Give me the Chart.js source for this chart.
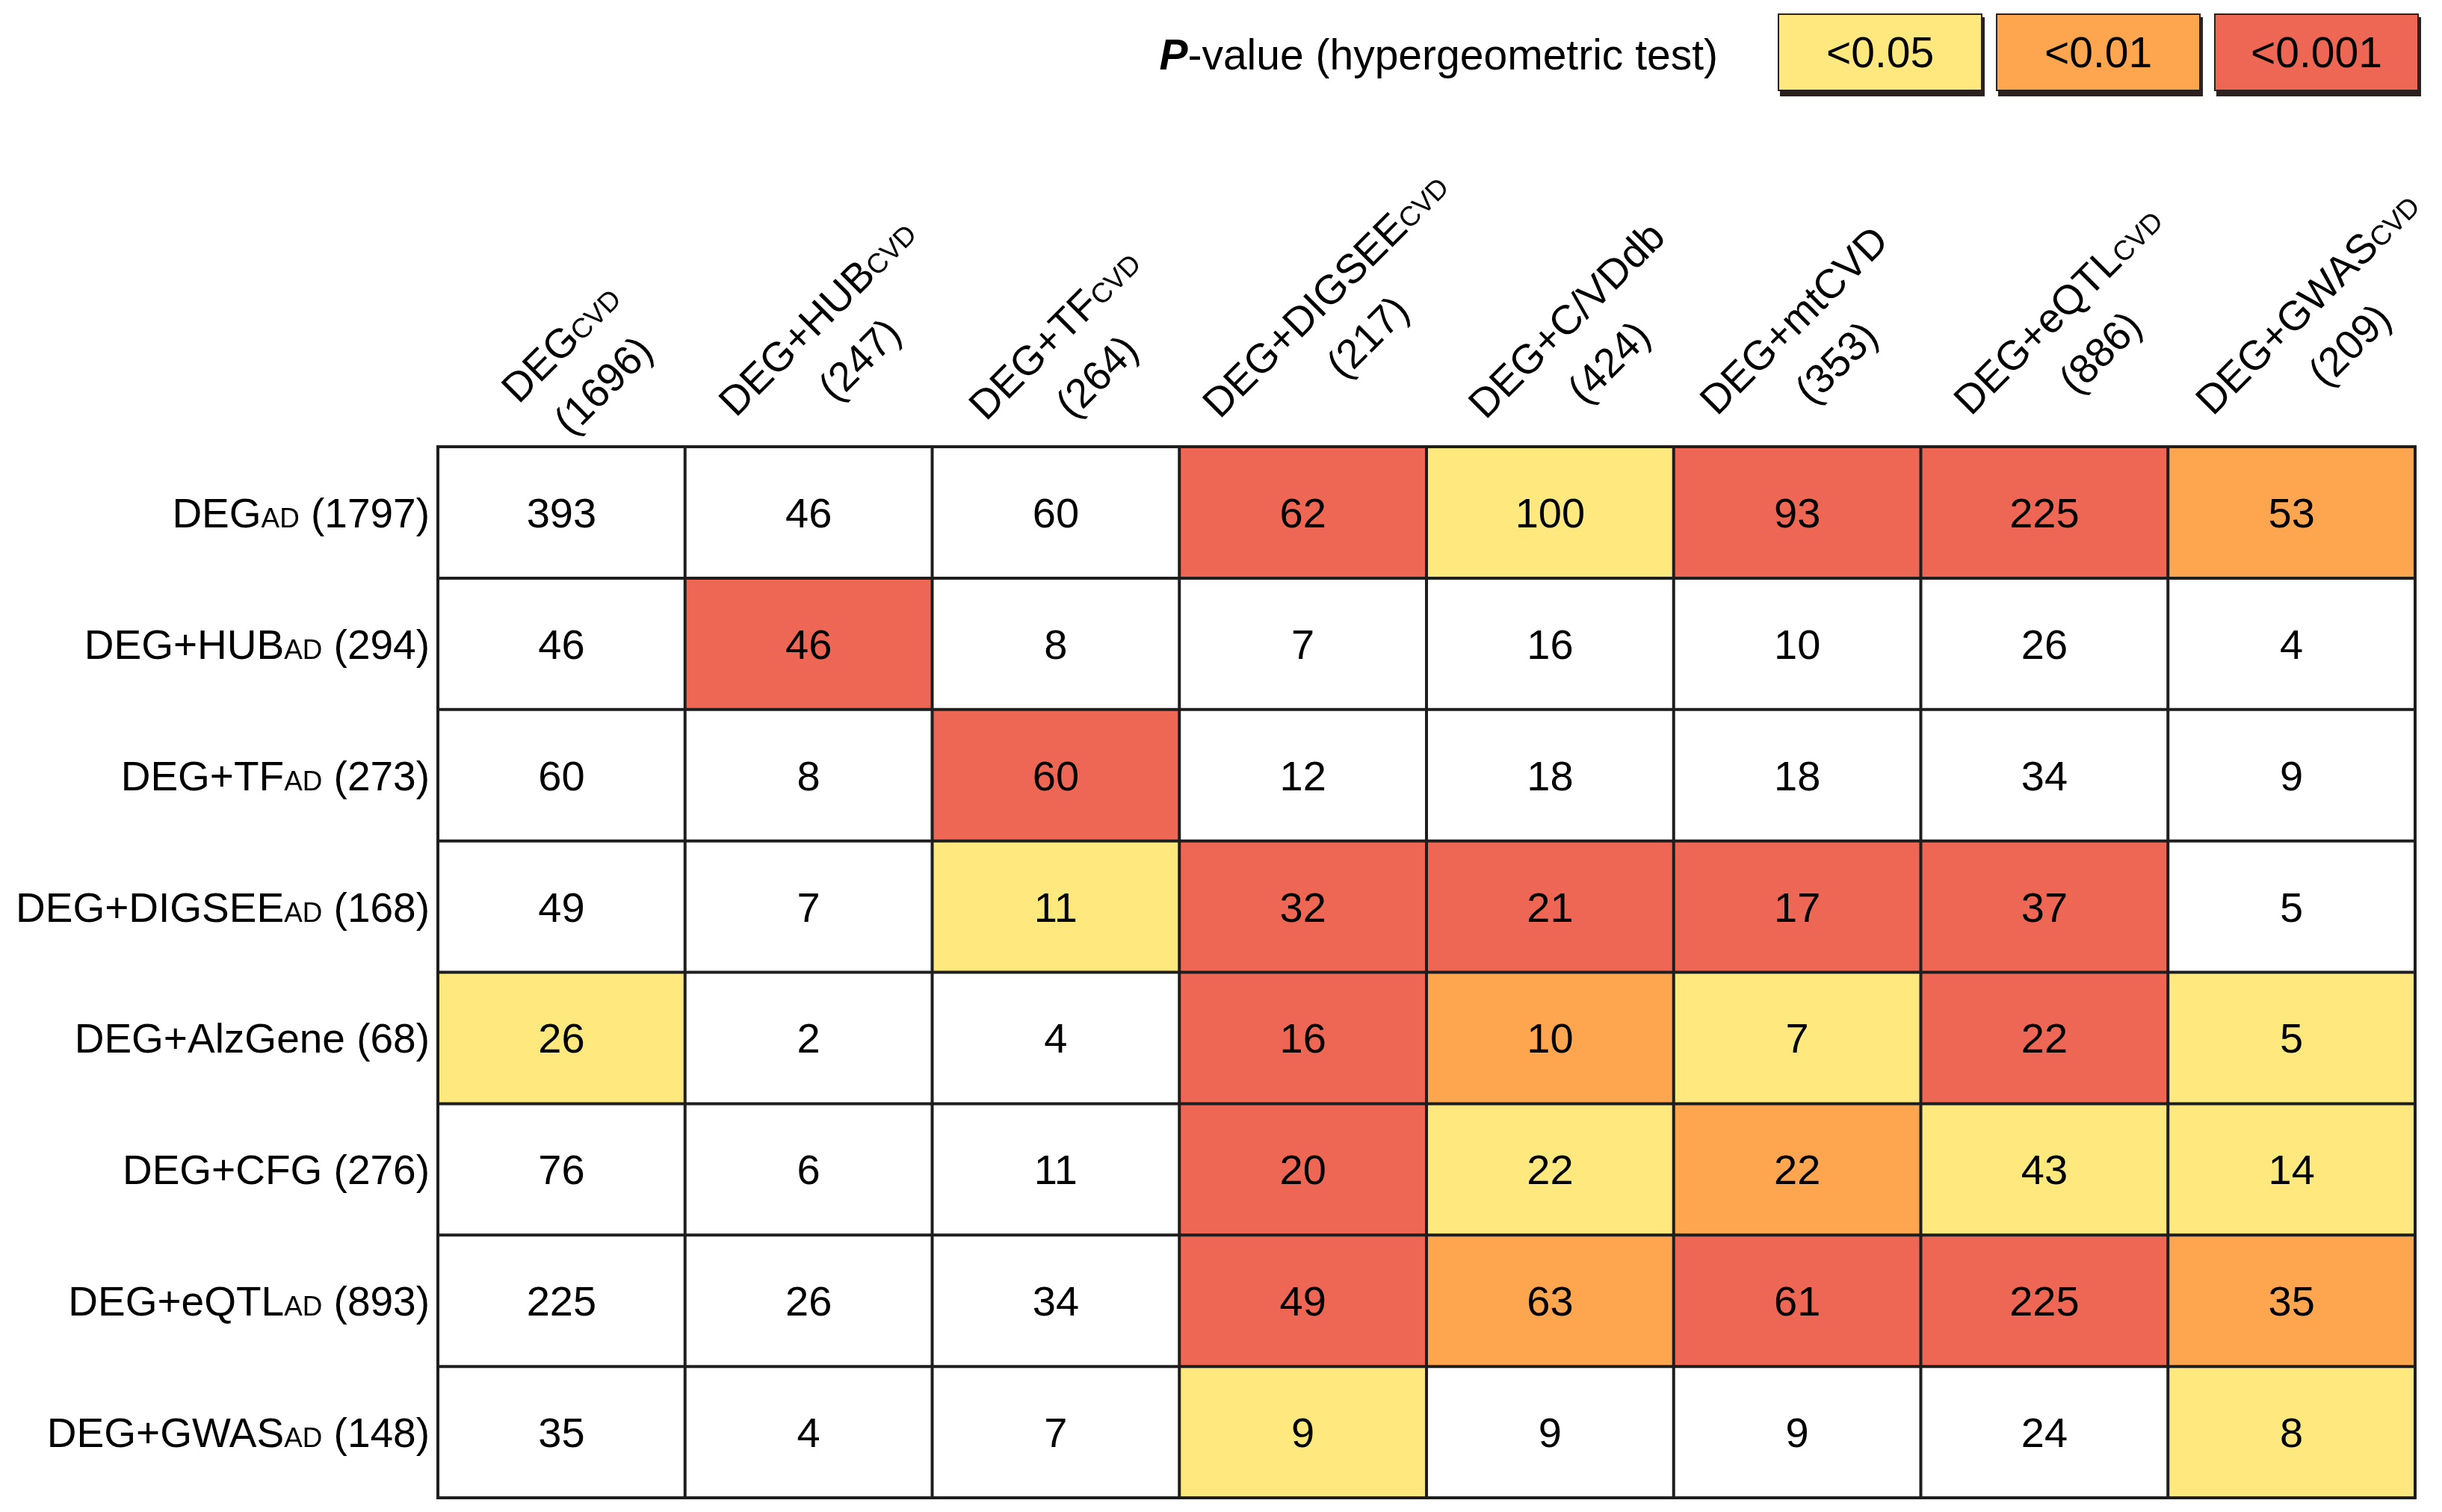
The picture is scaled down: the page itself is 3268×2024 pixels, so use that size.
<!DOCTYPE html>
<html>
<head>
<meta charset="utf-8">
<script src="https://cdn.jsdelivr.net/npm/chart.js@4.4.1/dist/chart.umd.min.js"></script>
<style>
  html, body { margin: 0; padding: 0; background: #fff; }
  #chart { display: block; }
</style>
</head>
<body>
<canvas id="chart" width="3268" height="2024"></canvas>
<script>
// CVD gene sets (columns)
const colNames = ['DEG', 'DEG+HUB', 'DEG+TF', 'DEG+DIGSEE', 'DEG+C/VDdb', 'DEG+mtCVD', 'DEG+eQTL', 'DEG+GWAS'];
const colSubs = ['CVD', 'CVD', 'CVD', 'CVD', '', '', 'CVD', 'CVD'];
const colSizes = [1696, 247, 264, 217, 424, 353, 886, 209];

// AD gene sets (rows)
const rowNames = ['DEG', 'DEG+HUB', 'DEG+TF', 'DEG+DIGSEE', 'DEG+AlzGene', 'DEG+CFG', 'DEG+eQTL', 'DEG+GWAS'];
const rowSubs = ['AD', 'AD', 'AD', 'AD', '', '', 'AD', 'AD'];
const rowSizes = [1797, 294, 273, 168, 68, 276, 893, 148];

// overlapping genes, one array per row
const overlap = [
    [393, 46, 60, 62, 100, 93, 225, 53],
    [46, 46, 8, 7, 16, 10, 26, 4],
    [60, 8, 60, 12, 18, 18, 34, 9],
    [49, 7, 11, 32, 21, 17, 37, 5],
    [26, 2, 4, 16, 10, 7, 22, 5],
    [76, 6, 11, 20, 22, 22, 43, 14],
    [225, 26, 34, 49, 63, 61, 225, 35],
    [35, 4, 7, 9, 9, 9, 24, 8]
];

// p-value level: 0 = not significant, 1 = <0.05, 2 = <0.01, 3 = <0.001
const pLevel = [
    [0, 0, 0, 3, 1, 3, 3, 2],
    [0, 3, 0, 0, 0, 0, 0, 0],
    [0, 0, 3, 0, 0, 0, 0, 0],
    [0, 0, 1, 3, 3, 3, 3, 0],
    [1, 0, 0, 3, 2, 1, 3, 1],
    [0, 0, 0, 3, 1, 2, 1, 1],
    [0, 0, 0, 3, 2, 3, 3, 2],
    [0, 0, 0, 1, 0, 0, 0, 1]
];
const legendLabels = ['<0.05', '<0.01', '<0.001'];

const levelColors = ['#ffffff', '#ffe97f', '#fea54f', '#ee6654'];
const FONT = '"Liberation Sans", Arial, sans-serif';
const SMALL = 0.67; // small caps scale for AD / CVD

// header placement tweaks (px)
const headerDx = [44, 4, 8, -10, 15, -6, 3, -4];
const headerDy = [-18, 0, 5, 2, 3, -2, -2, -2];

function font(size, style) {
    return (style || '') + ' ' + size + 'px ' + FONT;
}

// parts: [[text, scale, style]]
function richWidth(ctx, parts, size) {
    let w = 0;
    parts.forEach(p => {
        if (!p[0]) return;
        ctx.font = font(size * p[1], p[2]);
        w += ctx.measureText(p[0]).width;
    });
    return w;
}

function drawRich(ctx, parts, x, y, size) {
    ctx.textAlign = 'left';
    ctx.textBaseline = 'alphabetic';
    parts.forEach(p => {
        if (!p[0]) return;
        ctx.font = font(size * p[1], p[2]);
        ctx.fillText(p[0], x, y);
        x += ctx.measureText(p[0]).width;
    });
}

const heatmapPlugin = {
    id: 'heatmapDecor',
    beforeDraw(chart) {
        const ctx = chart.ctx;
        ctx.save();
        ctx.fillStyle = '#fff';
        ctx.fillRect(0, 0, chart.width, chart.height);
        ctx.restore();
    },
    afterDatasetsDraw(chart) {
        const ctx = chart.ctx;
        const area = chart.chartArea;
        const first = chart.getDatasetMeta(0).data;
        ctx.save();
        ctx.strokeStyle = '#1e1e1e';
        ctx.lineWidth = 4;
        // vertical cell borders
        first.forEach((bar, j) => {
            const x = bar.x - bar.width / 2;
            ctx.beginPath();
            ctx.moveTo(x, area.top);
            ctx.lineTo(x, area.bottom);
            ctx.stroke();
        });
        ctx.beginPath();
        ctx.moveTo(area.right, area.top);
        ctx.lineTo(area.right, area.bottom);
        ctx.stroke();
        // horizontal cell borders
        chart.data.datasets.forEach((ds, i) => {
            const bar = chart.getDatasetMeta(i).data[0];
            const yTop = Math.min(bar.y, bar.base);
            ctx.beginPath();
            ctx.moveTo(area.left - 2, yTop);
            ctx.lineTo(area.right + 2, yTop);
            ctx.stroke();
        });
        ctx.beginPath();
        ctx.moveTo(area.left - 2, area.bottom);
        ctx.lineTo(area.right + 2, area.bottom);
        ctx.stroke();

        // counts
        ctx.fillStyle = '#000';
        ctx.font = font(56);
        ctx.textAlign = 'center';
        ctx.textBaseline = 'alphabetic';
        chart.data.datasets.forEach((ds, i) => {
            chart.getDatasetMeta(i).data.forEach((bar, j) => {
                const cy = (bar.y + bar.base) / 2;
                ctx.fillText(String(overlap[i][j]), bar.x, cy + 20);
            });
        });
        ctx.restore();
    },
    afterDraw(chart) {
        const ctx = chart.ctx;
        const area = chart.chartArea;
        ctx.save();
        ctx.fillStyle = '#000';

        // row labels
        const rs = 55;
        rowNames.forEach((name, i) => {
            const bar = chart.getDatasetMeta(i).data[0];
            const cy = (bar.y + bar.base) / 2;
            const parts = [[name, 1], [rowSubs[i], SMALL], [' (' + rowSizes[i] + ')', 1]];
            const w = richWidth(ctx, parts, rs);
            drawRich(ctx, parts, area.left - 11 - w, cy + 20, rs);
        });

        // column headers, rotated 45 degrees
        const cs = 55;
        const first = chart.getDatasetMeta(0).data;
        colNames.forEach((name, j) => {
            const bar = first[j];
            const left = bar.x - bar.width / 2;
            const px = left + 64 + headerDx[j];
            const py = area.top - 38 + headerDy[j];
            const line1 = [[name, 1], [colSubs[j], SMALL]];
            const w1 = richWidth(ctx, line1, cs);
            ctx.save();
            ctx.translate(px, py);
            ctx.rotate(-Math.PI / 4);
            drawRich(ctx, line1, 0, 0, cs);
            ctx.font = font(cs);
            ctx.textAlign = 'center';
            ctx.fillText('(' + colSizes[j] + ')', w1 / 2, 80);
            ctx.restore();
        });

        // legend
        const boxW = 272, boxH = 102, gap = 20;
        const boxTop = 19;
        const startX = area.right + 4 - (3 * boxW + 2 * gap);
        const title = [['P', 1, 'italic bold'], ['-value (hypergeometric test)', 1]];
        const tw = richWidth(ctx, title, 57);
        drawRich(ctx, title, startX - 81 - tw, 93, 57);
        legendLabels.forEach((lab, k) => {
            const x = startX + k * (boxW + gap);
            ctx.fillStyle = '#2b2220';
            ctx.fillRect(x + 2, boxTop + 4, boxW + 2, boxH + 4);
            ctx.fillStyle = levelColors[k + 1];
            ctx.fillRect(x, boxTop, boxW, boxH);
            ctx.strokeStyle = '#2b2220';
            ctx.lineWidth = 2;
            ctx.strokeRect(x, boxTop, boxW, boxH);
            ctx.fillStyle = '#000';
            ctx.font = font(57);
            ctx.textAlign = 'center';
            ctx.textBaseline = 'alphabetic';
            ctx.fillText(lab, x + boxW / 2, boxTop + boxH / 2 + 20);
        });
        ctx.restore();
    }
};

// one floating-bar dataset per row, spanning [i, i+1] on a reversed 0..8 axis
const datasets = rowNames.map((name, i) => ({
    label: name,
    data: colNames.map(() => [i, i + 1]),
    backgroundColor: pLevel[i].map(l => levelColors[l]),
    borderWidth: 0,
    barPercentage: 1,
    categoryPercentage: 1
}));

new Chart(document.getElementById('chart'), {
    type: 'bar',
    data: { labels: colNames, datasets: datasets },
    options: {
        responsive: false,
        devicePixelRatio: 1,
        animation: false,
        layout: { padding: { left: 586, right: 36, top: 598, bottom: 19 } },
        plugins: { legend: { display: false }, tooltip: { enabled: false } },
        scales: {
            x: { stacked: true, display: false, grid: { display: false } },
            y: { stacked: false, display: false, min: 0, max: rowNames.length, reverse: true, grid: { display: false } }
        }
    },
    plugins: [heatmapPlugin]
});
</script>
</body>
</html>
